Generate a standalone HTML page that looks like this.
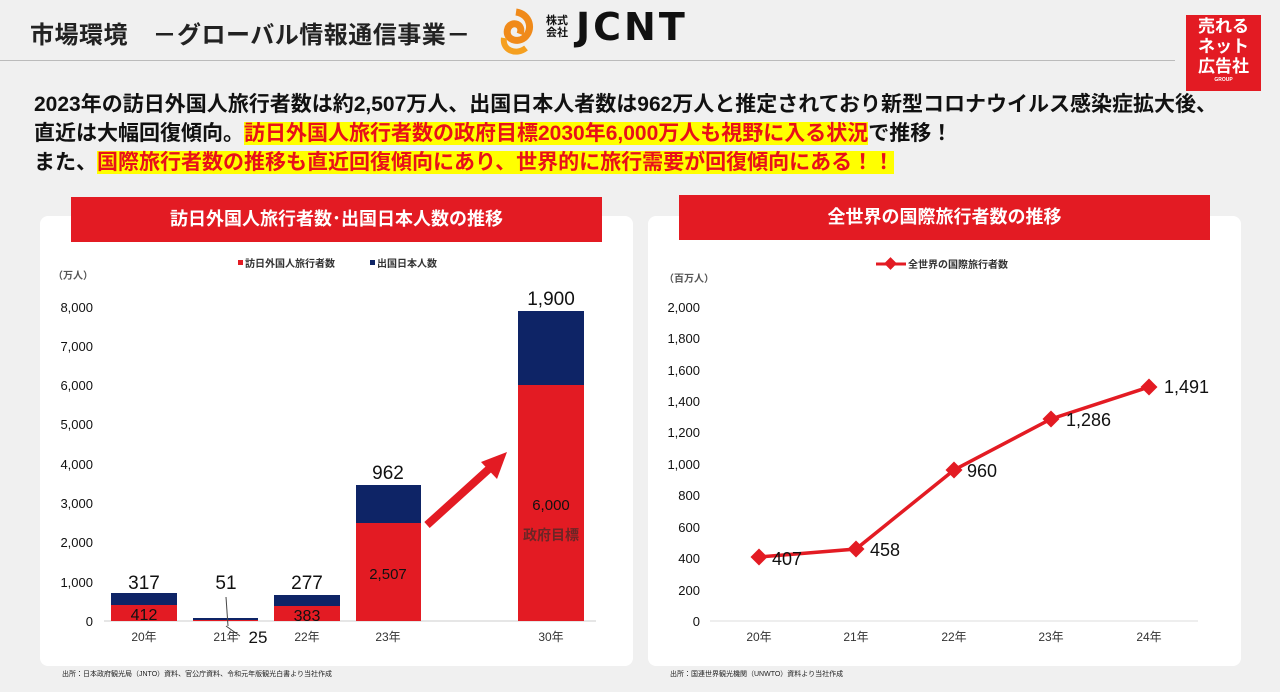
<!DOCTYPE html>
<html><head><meta charset="utf-8"><style>
body{margin:0;width:1280px;height:692px;background:#f0f0f0;overflow:hidden;font-family:"Liberation Sans","Noto Sans CJK JP",sans-serif;position:relative}
.a{position:absolute;white-space:nowrap}
.b{font-weight:bold}
.hl{background:#ffff00;color:#e8101a}
</style></head><body>
<div class="a b" style="left:30px;top:15px;font-size:24px;color:#222;letter-spacing:0.5px">市場環境　－グローバル情報通信事業－</div>
<svg class="a" style="left:496px;top:8px" width="40" height="50"><path d="M20 4 C34 6 38 22 28 30 C20 36 8 30 12 20 C16 12 28 16 24 26" fill="none" stroke="#f08a1a" stroke-width="7"/><path d="M8 30 C6 42 20 48 30 40" fill="none" stroke="#f5a020" stroke-width="6"/></svg>
<div class="a b" style="left:546px;top:15px;font-size:11px;line-height:12px;color:#111">株式<br>会社</div>
<div class="a b" style="left:576px;top:5px;font-size:38px;color:#111;letter-spacing:3px;font-family:'DejaVu Sans',sans-serif">JCNT</div>
<div class="a" style="left:0;top:60px;width:1175px;height:1px;background:#bbb"></div>
<div class="a b" style="left:1186px;top:15px;width:75px;height:74px;background:#e31b23;color:#fff;font-size:17px;line-height:20px;text-align:center;padding-top:2px">売れる<br>ネット<br>広告社<div style="font-size:5px;line-height:6px">GROUP</div></div>
<div class="a b" style="left:34px;top:90px;font-size:21px;line-height:29px;color:#111">2023年の訪日外国人旅行者数は約2,507万人、出国日本人者数は962万人と推定されており新型コロナウイルス感染症拡大後、<br>直近は大幅回復傾向。<span class="hl">訪日外国人旅行者数の政府目標2030年6,000万人も視野に入る状況</span>で推移！<br>また、<span class="hl">国際旅行者数の推移も直近回復傾向にあり、世界的に旅行需要が回復傾向にある！！</span></div>

<div class="a" style="left:40px;top:216px;width:593px;height:450px;background:#fff;border-radius:8px"></div>
<div class="a" style="left:648px;top:216px;width:593px;height:450px;background:#fff;border-radius:8px"></div>
<div class="a b" style="left:71px;top:197px;width:531px;height:45px;background:#e31b23;color:#fff;font-size:18px;line-height:45px;text-align:center">訪日外国人旅行者数･出国日本人数の推移</div>
<div class="a b" style="left:679px;top:195px;width:531px;height:45px;background:#e31b23;color:#fff;font-size:18px;line-height:45px;text-align:center">全世界の国際旅行者数の推移</div>
<div class="a" style="left:62px;top:669px;font-size:7px;color:#222">出所：日本政府観光局（JNTO）資料、官公庁資料、令和元年版観光白書より当社作成</div>
<div class="a" style="left:670px;top:669px;font-size:7px;color:#222">出所：国連世界観光機関（UNWTO）資料より当社作成</div>

<svg class="a" style="left:0;top:0" width="1280" height="692" font-family="Liberation Sans, Noto Sans CJK JP, sans-serif">
<g font-size="10" fill="#333" font-weight="bold">
<rect x="238" y="260" width="5" height="5" fill="#e31b23"/><text x="245" y="267">訪日外国人旅行者数</text>
<rect x="370" y="260" width="5" height="5" fill="#0e2466"/><text x="377" y="267">出国日本人数</text>
<text x="53" y="279" fill="#555">（万人）</text>
<line x1="876" y1="264" x2="906" y2="264" stroke="#e31b23" stroke-width="3"/><rect x="886" y="259" width="9" height="9" fill="#e31b23" transform="rotate(45 890.5 263.5)"/>
<text x="908" y="268">全世界の国際旅行者数</text>
<text x="664" y="282" fill="#555">（百万人）</text>
</g>
<g font-size="13" fill="#111" text-anchor="end">
<text x="93" y="626">0</text><text x="93" y="587">1,000</text><text x="93" y="547">2,000</text><text x="93" y="508">3,000</text><text x="93" y="469">4,000</text><text x="93" y="429">5,000</text><text x="93" y="390">6,000</text><text x="93" y="351">7,000</text><text x="93" y="312">8,000</text>
<text x="700" y="626">0</text><text x="700" y="595">200</text><text x="700" y="563">400</text><text x="700" y="532">600</text><text x="700" y="500">800</text><text x="700" y="469">1,000</text><text x="700" y="437">1,200</text><text x="700" y="406">1,400</text><text x="700" y="375">1,600</text><text x="700" y="343">1,800</text><text x="700" y="312">2,000</text>
</g>
<line x1="104" y1="621" x2="596" y2="621" stroke="#ccc"/>
<line x1="710" y1="621" x2="1198" y2="621" stroke="#ddd"/>
<g fill="#e31b23">
<rect x="111" y="605" width="66" height="16"/><rect x="193" y="620" width="65" height="1"/><rect x="274" y="606" width="66" height="15"/><rect x="356" y="523" width="65" height="98"/><rect x="518" y="385" width="66" height="236"/>
</g>
<g fill="#0e2466">
<rect x="111" y="593" width="66" height="12"/><rect x="193" y="618" width="65" height="2"/><rect x="274" y="595" width="66" height="11"/><rect x="356" y="485" width="65" height="38"/><rect x="518" y="311" width="66" height="74"/>
</g>
<line x1="226" y1="597" x2="228" y2="626" stroke="#444"/><line x1="226" y1="626" x2="240" y2="636" stroke="#444"/>
<g font-size="12" fill="#333" text-anchor="middle">
<text x="144" y="641">20年</text><text x="226" y="641">21年</text><text x="307" y="641">22年</text><text x="388" y="641">23年</text><text x="551" y="641">30年</text>
<text x="759" y="641">20年</text><text x="856" y="641">21年</text><text x="954" y="641">22年</text><text x="1051" y="641">23年</text><text x="1149" y="641">24年</text>
</g>
<g font-size="19" fill="#111" text-anchor="middle">
<text x="144" y="589">317</text><text x="226" y="589">51</text><text x="307" y="589">277</text><text x="388" y="479">962</text><text x="551" y="305">1,900</text>
<text x="144" y="620" font-size="16">412</text><text x="307" y="621" font-size="16">383</text><text x="258" y="643" font-size="17">25</text>
<text x="388" y="579" font-size="15">2,507</text><text x="551" y="510" font-size="15">6,000</text>
<text x="551" y="540" font-size="14" fill="#6b2626" font-weight="bold">政府目標</text>
</g>
<line x1="427" y1="525" x2="490" y2="468" stroke="#e31b23" stroke-width="8"/>
<polygon points="507,452 481,462 497,479" fill="#e31b23"/>
<polyline points="759,557 856,549 954,470 1051,419 1149,387" fill="none" stroke="#e31b23" stroke-width="3.5"/>
<g fill="#e31b23">
<rect x="753" y="551" width="12" height="12" transform="rotate(45 759 557)"/><rect x="850" y="543" width="12" height="12" transform="rotate(45 856 549)"/><rect x="948" y="464" width="12" height="12" transform="rotate(45 954 470)"/><rect x="1045" y="413" width="12" height="12" transform="rotate(45 1051 419)"/><rect x="1143" y="381" width="12" height="12" transform="rotate(45 1149 387)"/>
</g>
<g font-size="18" fill="#111">
<text x="772" y="565">407</text><text x="870" y="556">458</text><text x="967" y="477">960</text><text x="1066" y="426">1,286</text><text x="1164" y="393">1,491</text>
</g>
</svg>
</body></html>
